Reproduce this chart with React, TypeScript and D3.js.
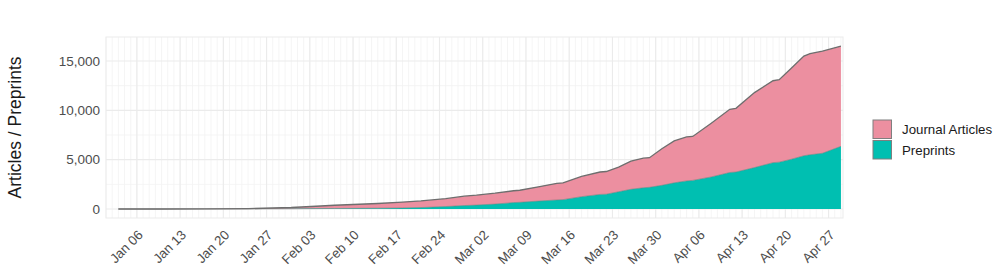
import React from 'react';
import * as d3 from 'd3';

// cumulative counts
const dates = [
  '2020-01-03', '2020-01-10', '2020-01-17', '2020-01-24', '2020-01-31',
  '2020-02-04', '2020-02-07', '2020-02-11', '2020-02-14', '2020-02-18',
  '2020-02-21', '2020-02-25', '2020-02-28', '2020-03-01', '2020-03-04',
  '2020-03-07', '2020-03-08', '2020-03-11', '2020-03-14', '2020-03-15',
  '2020-03-18', '2020-03-21', '2020-03-22', '2020-03-24', '2020-03-26',
  '2020-03-28', '2020-03-29', '2020-03-31', '2020-04-02', '2020-04-04',
  '2020-04-05', '2020-04-08', '2020-04-11', '2020-04-12', '2020-04-15',
  '2020-04-18', '2020-04-19', '2020-04-21', '2020-04-23', '2020-04-24',
  '2020-04-26', '2020-04-29'
];
const preprints = [
  0, 0, 2, 8, 25,
  40, 55, 70, 85, 110,
  150, 250, 350, 400, 500,
  650, 680, 800, 920, 950,
  1250, 1480, 1500, 1750, 2000,
  2150, 2200, 2400, 2650, 2850,
  2900, 3250, 3700, 3750, 4200,
  4700, 4750, 5050, 5400, 5500,
  5650, 6350
];
const journalArticles = [
  0, 2, 8, 27, 125,
  240, 325, 410, 475, 590,
  670, 800, 950, 1000, 1100,
  1200, 1220, 1450, 1680, 1700,
  2050, 2270, 2300, 2500, 2850,
  3000, 3000, 3700, 4250, 4450,
  4450, 5450, 6400, 6450, 7600,
  8300, 8350, 9250, 10100, 10250,
  10350, 10150
];
const yTicks = [0, 5000, 10000, 15000];
const yMinor = [2500, 7500, 12500];
const legendItems = ['Journal Articles', 'Preprints'];
const colors = { journal: '#EC8FA0', preprints: '#00BFB1' };

const W = 1003;
const H = 276;
const panel = { left: 106, right: 843, top: 37, bottom: 218 };
const font = '"Liberation Sans", Arial, sans-serif';

export default function App() {
  const parse = d3.timeParse('%Y-%m-%d');
  const rows = dates.map((d, i) => ({
    date: parse(d) as Date,
    pre: preprints[i],
    total: preprints[i] + journalArticles[i]
  }));

  const x = d3.scaleTime()
    .domain([new Date(2020, 0, 1), new Date(2020, 3, 29, 8)])
    .range([panel.left, panel.right]);
  const y = d3.scaleLinear()
    .domain([-912, 17433])
    .range([panel.bottom, panel.top]);

  const days = d3.timeDay.range(new Date(2020, 0, 1), new Date(2020, 3, 30));
  const weeks = d3.timeMonday.range(new Date(2020, 0, 6), new Date(2020, 3, 30));
  const fmt = d3.timeFormat('%b %d');

  const areaPre = d3.area<any>().x(d => x(d.date)).y0(y(0)).y1(d => y(d.pre));
  const areaTot = d3.area<any>().x(d => x(d.date)).y0(d => y(d.pre)).y1(d => y(d.total));
  const linePre = d3.line<any>().x(d => x(d.date)).y(d => y(d.pre));
  const lineTot = d3.line<any>().x(d => x(d.date)).y(d => y(d.total));

  return (
    <svg width={W} height={H} style={{ position: 'absolute', left: 0, top: 0, background: '#fff' }}
      fontFamily={font}>
      {/* grid */}
      {days.map((d, i) => (
        <line key={'d' + i} x1={x(d)} x2={x(d)} y1={panel.top} y2={panel.bottom}
          stroke="#F2F2F2" strokeWidth={0.8} />
      ))}
      {yMinor.map(v => (
        <line key={'ym' + v} x1={panel.left} x2={panel.right} y1={y(v)} y2={y(v)}
          stroke="#F2F2F2" strokeWidth={0.8} />
      ))}
      {weeks.map((d, i) => (
        <line key={'w' + i} x1={x(d)} x2={x(d)} y1={panel.top} y2={panel.bottom}
          stroke="#EBEBEB" strokeWidth={1.1} />
      ))}
      {yTicks.map(v => (
        <line key={'y' + v} x1={panel.left} x2={panel.right} y1={y(v)} y2={y(v)}
          stroke="#EBEBEB" strokeWidth={1.1} />
      ))}
      <rect x={panel.left} y={panel.top} width={panel.right - panel.left}
        height={panel.bottom - panel.top} fill="none" stroke="#EBEBEB" strokeWidth={1} />

      {/* stacked areas */}
      <path d={areaTot(rows) || ''} fill={colors.journal} />
      <path d={areaPre(rows) || ''} fill={colors.preprints} />
      <path d={linePre(rows) || ''} fill="none" stroke="#7A7A7A" strokeWidth={0.6} />
      <path d={lineTot(rows) || ''} fill="none" stroke="#6E6E6E" strokeWidth={1.3} />

      {/* y axis */}
      {yTicks.map(v => (
        <text key={'yl' + v} x={100} y={y(v)} dy="0.35em" textAnchor="end"
          fontSize={13.5} fill="#4D4D4D">{d3.format(',')(v)}</text>
      ))}
      <text transform={`translate(21,${(panel.top + panel.bottom) / 2}) rotate(-90)`}
        textAnchor="middle" fontSize={17.5} fill="#1A1A1A">Articles / Preprints</text>

      {/* x axis */}
      {weeks.map((d, i) => (
        <text key={'xl' + i} transform={`translate(${x(d)},${229}) rotate(-45)`}
          textAnchor="end" dy="0.72em" fontSize={13.3} fill="#4D4D4D">{fmt(d)}</text>
      ))}

      {/* legend */}
      {legendItems.map((name, i) => (
        <g key={name} transform={`translate(873,${120 + i * 20.5})`}>
          <rect x={0} y={0} width={18.5} height={18.5}
            fill={i === 0 ? colors.journal : colors.preprints} stroke="#7F7F7F" strokeWidth={1} />
          <text x={29} y={9.5} dy="0.35em" fontSize={13.3} fill="#1A1A1A">{name}</text>
        </g>
      ))}
    </svg>
  );
}
